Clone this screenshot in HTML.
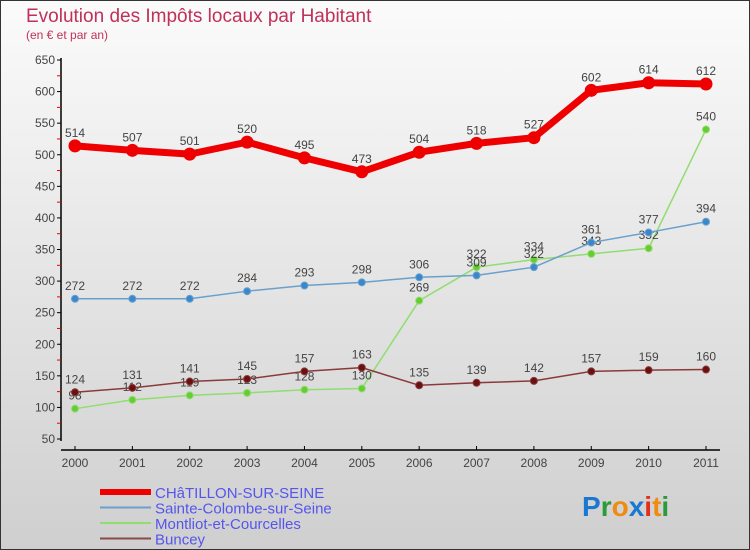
<!DOCTYPE html>
<html><head><meta charset="utf-8"><style>
body{margin:0}
#c{width:750px;height:550px;position:relative;overflow:hidden}
svg{position:absolute;left:0;top:0}
text{font-family:"Liberation Sans",sans-serif}
</style></head><body>
<div id="c">
<svg id="s" width="750" height="550">
<defs><linearGradient id="bg" x1="0" y1="0" x2="0" y2="1"><stop offset="0" stop-color="#fbfbfb"/><stop offset="1" stop-color="#cfcfcf"/></linearGradient></defs>
<rect x="0.5" y="0.5" width="749" height="549" fill="url(#bg)" stroke="#333"/>
<text x="26" y="22" font-size="19" fill="#c0305a">Evolution des Impôts locaux par Habitant</text>
<text x="26" y="39" font-size="12" fill="#c0305a">(en € et par an)</text>
<g id="axes"></g><g id="series"></g><g id="legend"></g>
<g font-size="28" font-weight="bold">
<text x="582" y="516"><tspan fill="#1a78d0">P</tspan><tspan fill="#2a9a3a">r</tspan><tspan fill="#f08a10">o</tspan><tspan fill="#1a78d0">x</tspan><tspan fill="#e03020">i</tspan><tspan fill="#f08a10">t</tspan><tspan fill="#2a9a3a">i</tspan></text>
</g>
</svg></div>
<script>
const years=["2000","2001","2002","2003","2004","2005","2006","2007","2008","2009","2010","2011"];
const chatillon=[514,507,501,520,495,473,504,518,527,602,614,612];
const sainteColombe=[272,272,272,284,293,298,306,309,322,361,377,394];
const montliot=[98,112,119,123,128,130,269,322,334,343,352,540];
const buncey=[124,131,141,145,157,163,135,139,142,157,159,160];
const yTicks=[50,100,150,200,250,300,350,400,450,500,550,600,650];
const NS="http://www.w3.org/2000/svg";
function X(i){return 75+i*(706-75)/11;}
function Y(v){return 439-(v-50)*(379/600);}
function mk(p,t,a){const e=document.createElementNS(NS,t);for(const k in a)e.setAttribute(k,a[k]);p.appendChild(e);return e;}
const ax=document.getElementById('axes');
let l=mk(ax,'line',{x1:61,y1:58,x2:61,y2:441,stroke:'#000','stroke-width':1.5});

l=mk(ax,'line',{x1:61,y1:450,x2:720,y2:450,stroke:'#000','stroke-width':1.5});

yTicks.forEach(v=>{
 mk(ax,'line',{x1:57,y1:Y(v),x2:61,y2:Y(v),stroke:'#000'});
 if(v<650)mk(ax,'line',{x1:57,y1:Y(v+25),x2:61,y2:Y(v+25),stroke:'#e00'});
 const t=mk(ax,'text',{x:55,y:Y(v)+4,'font-size':12,'text-anchor':'end',fill:'#444'});t.textContent=v;
 
});
years.forEach((y,i)=>{
 mk(ax,'line',{x1:X(i),y1:446,x2:X(i),y2:450,stroke:'#000'});
 const t=mk(ax,'text',{x:X(i),y:467,'font-size':12,'text-anchor':'middle',fill:'#444'});t.textContent=y;
 
});
const sg=document.getElementById('series');
function draw(name,vals,color,dot,w,r){
 const g=mk(sg,'g',{});
 
 const pl=mk(g,'polyline',{points:vals.map((v,i)=>X(i)+','+Y(v)).join(' '),fill:'none',stroke:color,'stroke-width':w,'stroke-linejoin':'round'});
 
 vals.forEach((v,i)=>{
  const c=mk(g,'circle',{cx:X(i),cy:Y(v),r:r,fill:dot,stroke:color,'stroke-width':1});
  
  const t=mk(g,'text',{x:X(i),y:Y(v)-9,'font-size':12,'text-anchor':'middle',fill:'#444'});t.textContent=v;
  
 });
}
draw('montliot',montliot,'#90dd70','#66cc33',1.5,3.5);
draw('sainte-colombe',sainteColombe,'#6aa0cc','#3a88cc',1.5,3.5);
draw('buncey',buncey,'#8a3a3a','#6a1010',1.5,3.5);
draw('chatillon',chatillon,'#ee0000','#ee0000',7,6);
const lg=document.getElementById('legend');
[["CHâTILLON-SUR-SEINE","#ee0000",6],["Sainte-Colombe-sur-Seine","#6aa0cc",2],["Montliot-et-Courcelles","#90dd70",2],["Buncey","#8a4a4a",2]].forEach((d,i)=>{
 const y=492+i*15.5;
 const g=mk(lg,'g',{});
 
 mk(g,'line',{x1:100,y1:y,x2:151,y2:y,stroke:d[1],'stroke-width':d[2]});
 const t=mk(g,'text',{x:155,y:y+6,'font-size':15,fill:'#5555ee'});t.textContent=d[0];
});
</script>
</body></html>
